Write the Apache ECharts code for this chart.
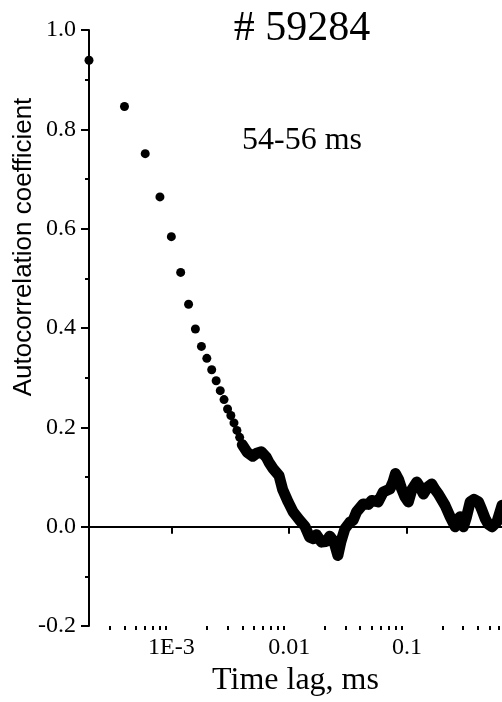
<!DOCTYPE html>
<html>
<head>
<meta charset="utf-8">
<script src="https://cdn.jsdelivr.net/npm/echarts@6/dist/echarts.min.js"></script>
<style>
html,body{margin:0;padding:0;background:#fff;}
#chart{width:502px;height:702px;}
</style>
</head>
<body>
<div id="chart"></div>
<script>
// Sparse early lags drawn as separate dots
var dotLag  = [0.0002,0.0004,0.0006,0.0008,0.001,0.0012,0.0014,0.0016,0.0018,0.002,0.0022,0.0024,0.0026,0.0028,0.003,0.0032,0.0034,0.0036,0.0038,0.0040,0.0042,0.0044];
var dotCoef = [0.939,0.846,0.751,0.664,0.584,0.512,0.448,0.398,0.363,0.339,0.316,0.294,0.274,0.256,0.237,0.224,0.209,0.194,0.180,0.167,0.158,0.151];

// Dense lags (merged points forming a thick trace)
var lineLag  = [0.0040,0.0044,0.0049,0.0053,0.0058,0.0064,0.0068,0.0073,0.0082,0.0088,0.0098,0.0108,0.0123,0.0136,0.0149,0.0160,0.0170,0.0188,0.0205,0.0221,0.0240,0.0259,0.0275,0.0297,0.0327,0.0349,0.0373,0.0425,0.0470,0.0501,0.0570,0.0628,0.0716,0.0760,0.0798,0.0850,0.0901,0.0960,0.1026,0.1100,0.1210,0.1290,0.1377,0.1500,0.1622,0.1730,0.1846,0.2105,0.2323,0.2440,0.2564,0.2700,0.2825,0.3016,0.3200,0.3436,0.3700,0.4045,0.4300,0.4613,0.4900,0.5260,0.5800,0.6400];
var lineCoef = [0.165,0.150,0.142,0.148,0.151,0.140,0.128,0.117,0.103,0.075,0.050,0.030,0.013,0.001,-0.021,-0.024,-0.016,-0.031,-0.030,-0.019,-0.030,-0.058,-0.030,-0.004,0.009,0.013,0.030,0.046,0.045,0.053,0.050,0.070,0.076,0.090,0.107,0.095,0.076,0.060,0.050,0.075,0.090,0.080,0.066,0.080,0.086,0.075,0.066,0.043,0.020,0.010,0.000,0.015,0.020,0.000,0.020,0.050,0.055,0.050,0.035,0.016,0.005,0.000,0.010,0.043];

var xMajorTicks = [0.001, 0.01, 0.1];
var xTickLabels = ['1E-3', '0.01', '0.1'];
var xMinorTicks = [0.0003,0.0004,0.0005,0.0006,0.0007,0.0008,0.0009,
                   0.002,0.003,0.004,0.005,0.006,0.007,0.008,0.009,
                   0.02,0.03,0.04,0.05,0.06,0.07,0.08,0.09,
                   0.2,0.3,0.4,0.5,0.6];

var titleText = '# 59284';
var subText = '54-56 ms';
var xName = 'Time lag, ms';
var yName = 'Autocorrelation coefficient';

function pairs(xs, ys){ return xs.map(function(x,i){ return [x, ys[i]]; }); }

var serif = '"Liberation Serif","Times New Roman",serif';
var sans = '"Liberation Sans",Arial,sans-serif';

var chart = echarts.init(document.getElementById('chart'), null, {renderer:'canvas'});
chart.setOption({
  backgroundColor: '#fff',
  animation: false,
  grid: {left: 89, right: 0, top: 30, bottom: 74},
  xAxis: [{
    type: 'log', min: 0.0002, max: 0.64, position: 'bottom',
    name: xName, nameLocation: 'middle', nameGap: 35,
    nameTextStyle: {fontFamily: serif, fontSize: 32, color: '#000'},
    axisLine: {show: true, lineStyle: {color: '#000', width: 2}},
    axisTick: {show: true, customValues: xMajorTicks, length: 7, lineStyle: {color: '#000', width: 2}},
    axisLabel: {customValues: xMajorTicks, margin: 10, fontFamily: serif, fontSize: 24, color: '#000',
      formatter: function(v){ var i = xMajorTicks.findIndex(function(t){ return Math.abs(t-v)/t < 1e-6; }); return i >= 0 ? xTickLabels[i] : ''; }},
    splitLine: {show: false}, minorTick: {show: false}
  },{
    type: 'log', min: 0.0002, max: 0.64, position: 'bottom',
    axisLine: {show: false},
    axisTick: {show: true, customValues: xMinorTicks, length: 4, lineStyle: {color: '#000', width: 2}},
    axisLabel: {show: false},
    splitLine: {show: false}
  }],
  yAxis: {
    type: 'value', min: -0.2, max: 1.0, interval: 0.2,
    axisLine: {show: true, lineStyle: {color: '#000', width: 2}},
    axisTick: {show: true, length: 8, lineStyle: {color: '#000', width: 2}},
    minorTick: {show: true, splitNumber: 2, length: 4, lineStyle: {color: '#000', width: 2}},
    axisLabel: {margin: 13, fontFamily: serif, fontSize: 24, color: '#000',
      formatter: function(v){ return v.toFixed(1); }},
    splitLine: {show: false}
  },
  graphic: [
    {type: 'text', x: 302, y: 8, style: {text: titleText, font: '42px ' + serif, fill: '#000', textAlign: 'center', textVerticalAlign: 'top'}},
    {type: 'text', x: 302, y: 125, style: {text: subText, font: '32px ' + serif, fill: '#000', textAlign: 'center', textVerticalAlign: 'top'}},
    {type: 'text', x: 24, y: 247, rotation: Math.PI/2, style: {text: yName, font: '26px ' + sans, fill: '#000', textAlign: 'center', textVerticalAlign: 'middle'}}
  ],
  series: [{
    type: 'line', xAxisIndex: 0, data: pairs(lineLag, lineCoef),
    showSymbol: false, symbol: 'none', smooth: false,
    lineStyle: {color: '#000', width: 11, cap: 'round', join: 'round'},
    markLine: {silent: true, symbol: 'none', label: {show: false},
      lineStyle: {color: '#000', width: 1.5, type: 'solid'}, data: [{yAxis: 0}]},
    z: 3
  },{
    type: 'scatter', xAxisIndex: 0, data: pairs(dotLag, dotCoef),
    symbol: 'circle', symbolSize: 9, itemStyle: {color: '#000', opacity: 1}, z: 4
  }]
});
</script>
</body>
</html>
